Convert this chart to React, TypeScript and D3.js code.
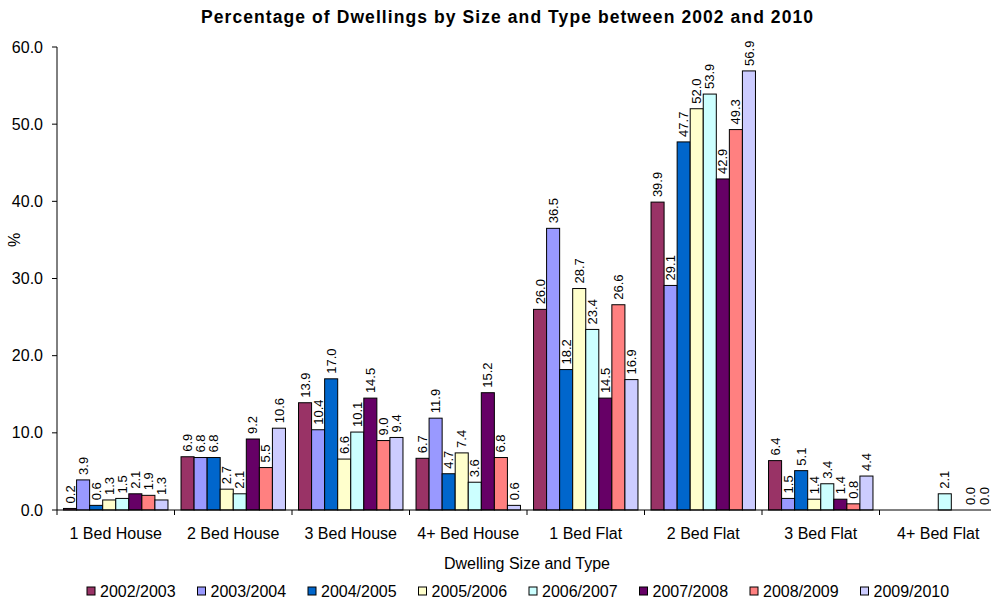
import React from "react";
import * as d3 from "d3";

const categories = ["1 Bed House", "2 Bed House", "3 Bed House", "4+ Bed House", "1 Bed Flat", "2 Bed Flat", "3 Bed Flat", "4+ Bed Flat"];
const seriesNames = ["2002/2003", "2003/2004", "2004/2005", "2005/2006", "2006/2007", "2007/2008", "2008/2009", "2009/2010"];
const seriesColors = ["#993366", "#9999FF", "#0066CC", "#FFFFCC", "#CCFFFF", "#660066", "#FF8080", "#CCCCFF"];

const s2002: (number | null)[] = [0.2, 6.9, 13.9, 6.7, 26.0, 39.9, 6.4, null];
const s2003: (number | null)[] = [3.9, 6.8, 10.4, 11.9, 36.5, 29.1, 1.5, null];
const s2004: (number | null)[] = [0.6, 6.8, 17.0, 4.7, 18.2, 47.7, 5.1, null];
const s2005: (number | null)[] = [1.3, 2.7, 6.6, 7.4, 28.7, 52.0, 1.4, null];
const s2006: (number | null)[] = [1.5, 2.1, 10.1, 3.6, 23.4, 53.9, 3.4, 2.1];
const s2007: (number | null)[] = [2.1, 9.2, 14.5, 15.2, 14.5, 42.9, 1.4, null];
const s2008: (number | null)[] = [1.9, 5.5, 9.0, 6.8, 26.6, 49.3, 0.8, 0.0];
const s2009: (number | null)[] = [1.3, 10.6, 9.4, 0.6, 16.9, 56.9, 4.4, 0.0];
const seriesValues = [s2002, s2003, s2004, s2005, s2006, s2007, s2008, s2009];

const yTicks = [0, 10, 20, 30, 40, 50, 60];

const FONT = "'Liberation Sans', Arial, sans-serif";

export default function App() {
  const W = 991, H = 604;
  const left = 57, right = 997, top = 47, bottom = 510;
  const x0 = d3.scaleBand<string>().domain(categories).range([left, right]).padding(0);
  const x1 = d3.scaleBand<string>().domain(seriesNames).range([0, x0.bandwidth()]).paddingInner(0).paddingOuter(0.5);
  const y = d3.scaleLinear().domain([0, 60]).range([bottom, top]);

  const bars: React.ReactNode[] = [];
  const labels: React.ReactNode[] = [];
  seriesNames.forEach((s, si) => {
    seriesValues[si].forEach((v, ci) => {
      if (v === null) return;
      const bx = (x0(categories[ci]) as number) + (x1(s) as number);
      const bw = x1.bandwidth();
      const by = y(v);
      if (v > 0) {
        bars.push(
          <rect key={`b-${si}-${ci}`} x={bx} y={by} width={bw} height={bottom - by}
            fill={seriesColors[si]} stroke="#000" strokeWidth={1} />
        );
      }
      const lx = bx + bw / 2;
      const ly = by - 5;
      labels.push(
        <text key={`l-${si}-${ci}`} transform={`translate(${lx},${ly}) rotate(-90)`} dy="0.35em"
          fontSize={13} fontFamily={FONT} fill="#000" textAnchor="start">{v.toFixed(1)}</text>
      );
    });
  });

  return (
    <svg width={W} height={H} style={{ position: "absolute", left: 0, top: 0, background: "#fff" }}>
      <rect x={0} y={0} width={W} height={H} fill="#fff" />
      <text x={507} y={23} textAnchor="middle" fontFamily={FONT} fontWeight="bold" fontSize={17.5}
        textLength={612} lengthAdjust="spacing">
        Percentage of Dwellings by Size and Type between 2002 and 2010
      </text>
      {/* y axis */}
      <line x1={left} x2={left} y1={top} y2={bottom} stroke="#000" strokeWidth={1} />
      {yTicks.map(t => (
        <g key={`yt-${t}`}>
          <line x1={left - 5} x2={left} y1={y(t)} y2={y(t)} stroke="#000" />
          <text x={43} y={y(t)} dy="0.35em" textAnchor="end" fontFamily={FONT} fontSize={16}>{t.toFixed(1)}</text>
        </g>
      ))}
      <text transform={`translate(20,${240}) rotate(-90)`} textAnchor="middle" fontFamily={FONT} fontSize={16}>%</text>
      {bars}
      {/* x axis */}
      <line x1={left} x2={right} y1={bottom} y2={bottom} stroke="#000" strokeWidth={1} />
      {categories.map((c) => (
        <g key={`xt-${c}`}>
          <line x1={x0(c) as number} x2={x0(c) as number} y1={bottom} y2={bottom + 5} stroke="#000" />
          <text x={(x0(c) as number) + x0.bandwidth() / 2} y={533} dy="0.35em" textAnchor="middle" fontFamily={FONT} fontSize={16}>{c}</text>
        </g>
      ))}
      <line x1={right} x2={right} y1={bottom} y2={bottom + 5} stroke="#000" />
      {labels}
      <text x={527} y={563} dy="0.35em" textAnchor="middle" fontFamily={FONT} fontSize={16}>Dwelling Size and Type</text>
      {/* legend */}
      {seriesNames.map((s, i) => {
        const lx = 87 + i * 110.5;
        return (
          <g key={`lg-${s}`}>
            <rect x={lx} y={587} width={8} height={8} fill={seriesColors[i]} stroke="#000" />
            <text x={lx + 13} y={591} dy="0.35em" fontFamily={FONT} fontSize={16}>{s}</text>
          </g>
        );
      })}
    </svg>
  );
}
